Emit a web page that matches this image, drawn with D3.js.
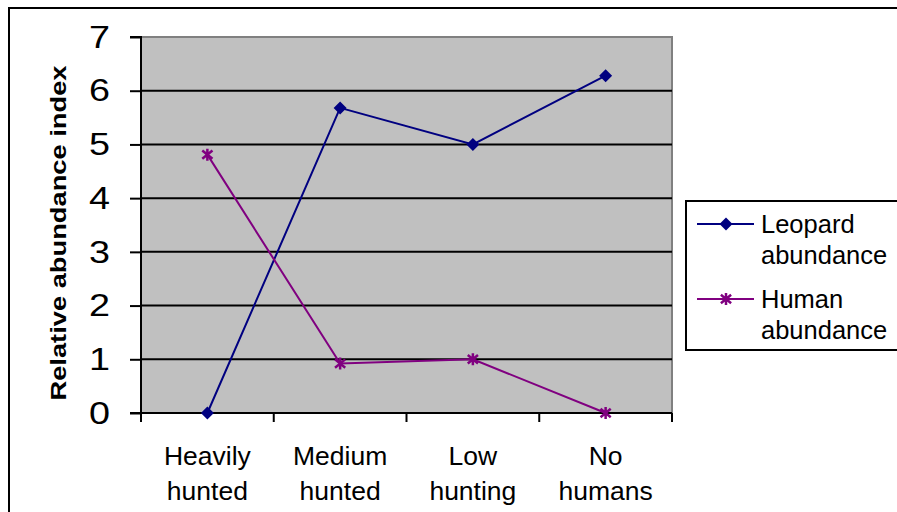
<!DOCTYPE html>
<html>
<head>
<meta charset="utf-8">
<script src="https://cdn.jsdelivr.net/npm/d3@7"></script>
<style>
  body { margin: 0; background: #fff; }
  svg { display: block; font-family: "Liberation Sans", Arial, sans-serif; }
</style>
</head>
<body>
<svg id="chart" width="897" height="512"></svg>
<script>
// chart data
const categories = [["Heavily", "hunted"], ["Medium", "hunted"], ["Low", "hunting"], ["No", "humans"]];
const leopard = [0, 5.68, 5.0, 6.28];
const human = [4.81, 0.92, 1.0, 0];
const yTicks = [0, 1, 2, 3, 4, 5, 6, 7];
const seriesNames = [["Leopard", "abundance"], ["Human", "abundance"]];

(function () {
const svg = d3.select('#chart');
const pLeft = 141, pRight = 672, pTop = 37, pBottom = 413;

// outer chart border
svg.append('rect')
    .attr('x', 9).attr('y', 8)
    .attr('width', 897).attr('height', 520)
    .attr('fill', 'none').attr('stroke', '#000').attr('stroke-width', 2);

const x = d3.scaleBand()
    .domain(categories.map((d, i) => i))
    .range([pLeft, pRight]);
const y = d3.scaleLinear().domain([0, 7]).range([pBottom, pTop]);

// plot area
svg.append('rect')
    .attr('x', pLeft).attr('y', pTop)
    .attr('width', pRight - pLeft).attr('height', pBottom - pTop)
    .attr('fill', '#c0c0c0').attr('stroke', '#808080').attr('stroke-width', 2);

// grid lines
svg.append('g').selectAll('line')
    .data(yTicks.filter(d => d > 0 && d < 7))
    .enter().append('line')
    .attr('x1', pLeft).attr('x2', pRight)
    .attr('y1', d => y(d)).attr('y2', d => y(d))
    .attr('stroke', '#000').attr('stroke-width', 2);

// y axis
const yAxis = svg.append('g')
    .attr('transform', `translate(${pLeft},0)`)
    .call(d3.axisLeft(y).tickValues(yTicks).tickFormat(d3.format('d')).tickSize(11).tickPadding(20));
yAxis.select('.domain').attr('stroke-width', 2).attr('d', `M-11,${pTop}H0V${pBottom}`);
yAxis.selectAll('.tick line').attr('stroke-width', 2);
yAxis.selectAll('text').attr('font-size', 32).attr('fill', '#000')
    .attr('textLength', 21).attr('lengthAdjust', 'spacingAndGlyphs')
    .attr('font-family', '"Liberation Sans", Arial, sans-serif');

// x axis
const xAxis = svg.append('g')
    .attr('transform', `translate(0,${pBottom})`);
xAxis.append('line')
    .attr('x1', pLeft - 11).attr('x2', pRight)
    .attr('stroke', '#000').attr('stroke-width', 2);
const xEdges = categories.map((d, i) => x(i)).concat([pRight]);
xAxis.selectAll('.xt').data(xEdges).enter().append('line')
    .attr('x1', d => d).attr('x2', d => d)
    .attr('y1', 0).attr('y2', 9)
    .attr('stroke', '#000').attr('stroke-width', 2);
const xLab = xAxis.selectAll('.xl').data(categories).enter().append('text')
    .attr('text-anchor', 'middle')
    .attr('font-size', 26.5)
    .attr('x', (d, i) => x(i) + x.bandwidth() / 2);
xLab.selectAll('tspan').data(d => d).enter().append('tspan')
    .attr('x', function() { return d3.select(this.parentNode).attr('x'); })
    .attr('y', (d, i) => 52 + i * 35)
    .text(d => d);

// y axis title
svg.append('text')
    .attr('transform', 'translate(66,233) rotate(-90)')
    .attr('text-anchor', 'middle')
    .attr('font-size', 22).attr('font-weight', 'bold')
    .attr('textLength', 335).attr('lengthAdjust', 'spacingAndGlyphs')
    .text('Relative abundance index');

const line = d3.line()
    .x((d, i) => x(i) + x.bandwidth() / 2)
    .y(d => y(d));

const diamond = 'M0,-6.5L6.5,0L0,6.5L-6.5,0Z';
function star(g, cx, cy, color) {
    const r = 6;
    g.append('path')
        .attr('d', `M${cx},${cy - r}V${cy + r}M${cx - r * 0.85},${cy - r * 0.7}L${cx + r * 0.85},${cy + r * 0.7}M${cx - r * 0.85},${cy + r * 0.7}L${cx + r * 0.85},${cy - r * 0.7}`)
        .attr('stroke', color).attr('stroke-width', 2.5).attr('fill', 'none');
}

// leopard series
svg.append('path').datum(leopard)
    .attr('d', line).attr('fill', 'none')
    .attr('stroke', '#000080').attr('stroke-width', 2);
svg.append('g').selectAll('path').data(leopard).enter().append('path')
    .attr('d', diamond)
    .attr('transform', (d, i) => `translate(${x(i) + x.bandwidth() / 2},${y(d)})`)
    .attr('fill', '#000080');

// human series
svg.append('path').datum(human)
    .attr('d', line).attr('fill', 'none')
    .attr('stroke', '#800080').attr('stroke-width', 2);
const hg = svg.append('g');
human.forEach((d, i) => star(hg, x(i) + x.bandwidth() / 2, y(d), '#800080'));

// legend
const lg = svg.append('g');
lg.append('rect')
    .attr('x', 686).attr('y', 201).attr('width', 220).attr('height', 149)
    .attr('fill', '#fff').attr('stroke', '#000').attr('stroke-width', 2);
const legendColors = ['#000080', '#800080'];
seriesNames.forEach((name, i) => {
    const ly = 224 + i * 75;
    lg.append('line')
        .attr('x1', 697).attr('x2', 754).attr('y1', ly).attr('y2', ly)
        .attr('stroke', legendColors[i]).attr('stroke-width', 2);
    if (i === 0) {
        lg.append('path').attr('d', diamond)
            .attr('transform', `translate(726,${ly})`).attr('fill', legendColors[i]);
    } else {
        star(lg, 726, ly, legendColors[i]);
    }
    const t = lg.append('text').attr('font-size', 25.5);
    name.forEach((s, j) => {
        t.append('tspan').attr('x', 761).attr('y', ly + 9 + j * 31).text(s);
    });
});
}());
</script>
</body>
</html>
